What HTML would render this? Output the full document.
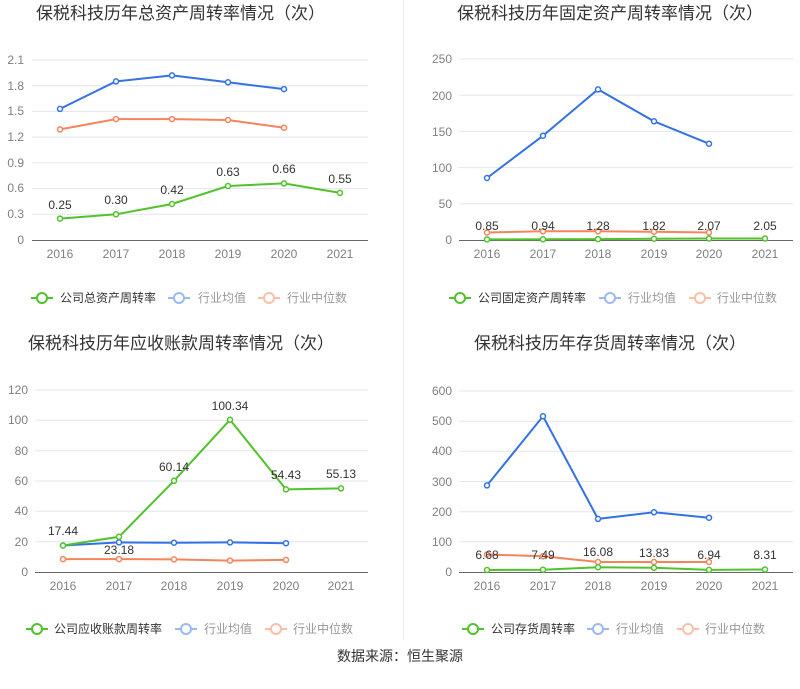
<!DOCTYPE html>
<html><head><meta charset="utf-8"><style>
body{margin:0;background:#fff;}
svg{display:block;font-family:"Liberation Sans","Noto Sans CJK SC",sans-serif;}
.t{font-size:17px;fill:#333;}
.ax{font-size:12px;fill:#808080;}
.lb{font-size:12px;fill:#333;text-anchor:middle;}
.lg{font-size:12px;}
.g{stroke:#e3e6ee;stroke-width:1;}
.gr{fill:none;stroke:#52c22b;stroke-width:2;}
.bl{fill:none;stroke:#3472e4;stroke-width:2;}
.or{fill:none;stroke:#f5845a;stroke-width:2;}
.pg{fill:#fff;stroke:#52c22b;stroke-width:1.5;}
.pb{fill:#fff;stroke:#3472e4;stroke-width:1.5;}
.po{fill:#fff;stroke:#f5845a;stroke-width:1.5;}
</style></head><body>
<svg width="800" height="689" viewBox="0 0 800 689">
<line x1="403.5" y1="0" x2="403.5" y2="640" stroke="#eee"/>

<!-- Chart 1 -->
<text class="t" x="36" y="19">保税科技历年总资产周转率情况（次）</text>
<g class="g"><line x1="32" x2="368" y1="60" y2="60"/><line x1="32" x2="368" y1="85.7" y2="85.7"/><line x1="32" x2="368" y1="111.4" y2="111.4"/><line x1="32" x2="368" y1="137.1" y2="137.1"/><line x1="32" x2="368" y1="162.9" y2="162.9"/><line x1="32" x2="368" y1="188.6" y2="188.6"/><line x1="32" x2="368" y1="214.3" y2="214.3"/></g>
<line x1="32" x2="368" y1="240.5" y2="240.5" stroke="#666"/>
<g class="ax" text-anchor="end"><text x="24" y="64">2.1</text><text x="24" y="90">1.8</text><text x="24" y="115">1.5</text><text x="24" y="141">1.2</text><text x="24" y="167">0.9</text><text x="24" y="192">0.6</text><text x="24" y="218">0.3</text><text x="24" y="244">0</text></g>
<g class="ax" text-anchor="middle"><text x="60" y="258">2016</text><text x="116" y="258">2017</text><text x="172" y="258">2018</text><text x="228" y="258">2019</text><text x="284" y="258">2020</text><text x="340" y="258">2021</text></g>
<polyline class="bl" points="60,108.9 116,81.4 172,75.4 228,82.3 284,89.1"/>
<polyline class="or" points="60,129.4 116,119.1 172,119.1 228,120 284,127.7"/>
<polyline class="gr" points="60,218.6 116,214.3 172,204 228,186 284,183.4 340,192.9"/>
<g class="pb"><circle cx="60" cy="108.9" r="2.5"/><circle cx="116" cy="81.4" r="2.5"/><circle cx="172" cy="75.4" r="2.5"/><circle cx="228" cy="82.3" r="2.5"/><circle cx="284" cy="89.1" r="2.5"/></g>
<g class="po"><circle cx="60" cy="129.4" r="2.5"/><circle cx="116" cy="119.1" r="2.5"/><circle cx="172" cy="119.1" r="2.5"/><circle cx="228" cy="120" r="2.5"/><circle cx="284" cy="127.7" r="2.5"/></g>
<g class="pg"><circle cx="60" cy="218.6" r="2.5"/><circle cx="116" cy="214.3" r="2.5"/><circle cx="172" cy="204" r="2.5"/><circle cx="228" cy="186" r="2.5"/><circle cx="284" cy="183.4" r="2.5"/><circle cx="340" cy="192.9" r="2.5"/></g>
<g class="lb"><text x="60" y="209">0.25</text><text x="116" y="204">0.30</text><text x="172" y="194">0.42</text><text x="228" y="176">0.63</text><text x="284" y="173">0.66</text><text x="340" y="183">0.55</text></g>
<g class="lg">
<line x1="31" x2="53" y1="298" y2="298" stroke="#52c22b" stroke-width="2"/><circle cx="42" cy="298" r="5" fill="#fff" stroke="#52c22b" stroke-width="2"/><text x="60" y="302" fill="#333">公司总资产周转率</text>
<line x1="168" x2="190" y1="298" y2="298" stroke="#9bb9f0" stroke-width="2"/><circle cx="179" cy="298" r="5" fill="#fff" stroke="#9bb9f0" stroke-width="2"/><text x="198" y="302" fill="#999">行业均值</text>
<line x1="258" x2="280" y1="298" y2="298" stroke="#f9c0a9" stroke-width="2"/><circle cx="269" cy="298" r="5" fill="#fff" stroke="#f9c0a9" stroke-width="2"/><text x="287" y="302" fill="#999">行业中位数</text>
</g>

<!-- Chart 2 -->
<text class="t" x="610" y="19" text-anchor="middle">保税科技历年固定资产周转率情况（次）</text>
<g class="g"><line x1="459" x2="793" y1="59" y2="59"/><line x1="459" x2="793" y1="95.2" y2="95.2"/><line x1="459" x2="793" y1="131.4" y2="131.4"/><line x1="459" x2="793" y1="167.6" y2="167.6"/><line x1="459" x2="793" y1="203.8" y2="203.8"/></g>
<line x1="459" x2="793" y1="240.5" y2="240.5" stroke="#666"/>
<g class="ax" text-anchor="end"><text x="452" y="63">250</text><text x="452" y="100">200</text><text x="452" y="136">150</text><text x="452" y="172">100</text><text x="452" y="208">50</text><text x="452" y="244">0</text></g>
<g class="ax" text-anchor="middle"><text x="487" y="258">2016</text><text x="543" y="258">2017</text><text x="598" y="258">2018</text><text x="654" y="258">2019</text><text x="709" y="258">2020</text><text x="765" y="258">2021</text></g>
<polyline class="bl" points="487,178 543,135.7 598,89.4 654,121.3 709,143.7"/>
<polyline class="or" points="487,232.5 543,231.3 598,231.3 654,231.7 709,232.5"/>
<polyline class="gr" points="487,239.4 543,239.3 598,239.1 654,238.7 709,238.5 765,238.5"/>
<g class="pb"><circle cx="487" cy="178" r="2.5"/><circle cx="543" cy="135.7" r="2.5"/><circle cx="598" cy="89.4" r="2.5"/><circle cx="654" cy="121.3" r="2.5"/><circle cx="709" cy="143.7" r="2.5"/></g>
<g class="po"><circle cx="487" cy="232.5" r="2.5"/><circle cx="543" cy="231.3" r="2.5"/><circle cx="598" cy="231.3" r="2.5"/><circle cx="654" cy="231.7" r="2.5"/><circle cx="709" cy="232.5" r="2.5"/></g>
<g class="pg"><circle cx="487" cy="239.4" r="2.5"/><circle cx="543" cy="239.3" r="2.5"/><circle cx="598" cy="239.1" r="2.5"/><circle cx="654" cy="238.7" r="2.5"/><circle cx="709" cy="238.5" r="2.5"/><circle cx="765" cy="238.5" r="2.5"/></g>
<g class="lb"><text x="487" y="230">0.85</text><text x="543" y="230">0.94</text><text x="598" y="230">1.28</text><text x="654" y="230">1.82</text><text x="709" y="230">2.07</text><text x="765" y="230">2.05</text></g>
<g class="lg">
<line x1="449" x2="471" y1="298" y2="298" stroke="#52c22b" stroke-width="2"/><circle cx="460" cy="298" r="5" fill="#fff" stroke="#52c22b" stroke-width="2"/><text x="478" y="302" fill="#333">公司固定资产周转率</text>
<line x1="599" x2="621" y1="298" y2="298" stroke="#9bb9f0" stroke-width="2"/><circle cx="610" cy="298" r="5" fill="#fff" stroke="#9bb9f0" stroke-width="2"/><text x="628" y="302" fill="#999">行业均值</text>
<line x1="689" x2="711" y1="298" y2="298" stroke="#f9c0a9" stroke-width="2"/><circle cx="700" cy="298" r="5" fill="#fff" stroke="#f9c0a9" stroke-width="2"/><text x="717" y="302" fill="#999">行业中位数</text>
</g>

<!-- Chart 3 -->
<text class="t" x="28" y="349">保税科技历年应收账款周转率情况（次）</text>
<g class="g"><line x1="35" x2="368" y1="390" y2="390"/><line x1="35" x2="368" y1="420.3" y2="420.3"/><line x1="35" x2="368" y1="450.7" y2="450.7"/><line x1="35" x2="368" y1="481" y2="481"/><line x1="35" x2="368" y1="511.3" y2="511.3"/><line x1="35" x2="368" y1="541.7" y2="541.7"/></g>
<line x1="35" x2="368" y1="572.5" y2="572.5" stroke="#666"/>
<g class="ax" text-anchor="end"><text x="28" y="394">120</text><text x="28" y="424">100</text><text x="28" y="455">80</text><text x="28" y="485">60</text><text x="28" y="515">40</text><text x="28" y="546">20</text><text x="28" y="576">0</text></g>
<g class="ax" text-anchor="middle"><text x="63" y="590">2016</text><text x="119" y="590">2017</text><text x="174" y="590">2018</text><text x="230" y="590">2019</text><text x="286" y="590">2020</text><text x="341" y="590">2021</text></g>
<polyline class="bl" points="63,545.5 119,542.4 174,542.7 230,542.4 286,543.2"/>
<polyline class="or" points="63,559.1 119,559.1 174,559.4 230,560.6 286,559.9"/>
<polyline class="gr" points="63,545.5 119,536.8 174,480.8 230,419.8 286,489.4 341,488.4"/>
<g class="pb"><circle cx="63" cy="545.5" r="2.5"/><circle cx="119" cy="542.4" r="2.5"/><circle cx="174" cy="542.7" r="2.5"/><circle cx="230" cy="542.4" r="2.5"/><circle cx="286" cy="543.2" r="2.5"/></g>
<g class="po"><circle cx="63" cy="559.1" r="2.5"/><circle cx="119" cy="559.1" r="2.5"/><circle cx="174" cy="559.4" r="2.5"/><circle cx="230" cy="560.6" r="2.5"/><circle cx="286" cy="559.9" r="2.5"/></g>
<g class="pg"><circle cx="63" cy="545.5" r="2.5"/><circle cx="119" cy="536.8" r="2.5"/><circle cx="174" cy="480.8" r="2.5"/><circle cx="230" cy="419.8" r="2.5"/><circle cx="286" cy="489.4" r="2.5"/><circle cx="341" cy="488.4" r="2.5"/></g>
<g class="lb"><text x="63" y="535">17.44</text><text x="119" y="554">23.18</text><text x="174" y="471">60.14</text><text x="230" y="410">100.34</text><text x="286" y="479">54.43</text><text x="341" y="478">55.13</text></g>
<g class="lg">
<line x1="26" x2="48" y1="629" y2="629" stroke="#52c22b" stroke-width="2"/><circle cx="37" cy="629" r="5" fill="#fff" stroke="#52c22b" stroke-width="2"/><text x="54" y="633" fill="#333">公司应收账款周转率</text>
<line x1="175" x2="197" y1="629" y2="629" stroke="#9bb9f0" stroke-width="2"/><circle cx="186" cy="629" r="5" fill="#fff" stroke="#9bb9f0" stroke-width="2"/><text x="204" y="633" fill="#999">行业均值</text>
<line x1="265" x2="287" y1="629" y2="629" stroke="#f9c0a9" stroke-width="2"/><circle cx="276" cy="629" r="5" fill="#fff" stroke="#f9c0a9" stroke-width="2"/><text x="293" y="633" fill="#999">行业中位数</text>
</g>

<!-- Chart 4 -->
<text class="t" x="610" y="349" text-anchor="middle">保税科技历年存货周转率情况（次）</text>
<g class="g"><line x1="459" x2="793" y1="391" y2="391"/><line x1="459" x2="793" y1="421.2" y2="421.2"/><line x1="459" x2="793" y1="451.3" y2="451.3"/><line x1="459" x2="793" y1="481.5" y2="481.5"/><line x1="459" x2="793" y1="511.7" y2="511.7"/><line x1="459" x2="793" y1="541.8" y2="541.8"/></g>
<line x1="459" x2="793" y1="572.5" y2="572.5" stroke="#666"/>
<g class="ax" text-anchor="end"><text x="452" y="395">600</text><text x="452" y="425">500</text><text x="452" y="455">400</text><text x="452" y="486">300</text><text x="452" y="516">200</text><text x="452" y="546">100</text><text x="452" y="576">0</text></g>
<g class="ax" text-anchor="middle"><text x="487" y="590">2016</text><text x="543" y="590">2017</text><text x="598" y="590">2018</text><text x="654" y="590">2019</text><text x="709" y="590">2020</text><text x="765" y="590">2021</text></g>
<polyline class="bl" points="487,485.4 543,416.3 598,518.9 654,512.3 709,517.7"/>
<polyline class="or" points="487,554.5 543,556.3 598,562 654,562 709,562"/>
<polyline class="gr" points="487,570 543,569.7 598,567.2 654,567.8 709,569.9 765,569.5"/>
<g class="pb"><circle cx="487" cy="485.4" r="2.5"/><circle cx="543" cy="416.3" r="2.5"/><circle cx="598" cy="518.9" r="2.5"/><circle cx="654" cy="512.3" r="2.5"/><circle cx="709" cy="517.7" r="2.5"/></g>
<g class="po"><circle cx="487" cy="554.5" r="2.5"/><circle cx="543" cy="556.3" r="2.5"/><circle cx="598" cy="562" r="2.5"/><circle cx="654" cy="562" r="2.5"/><circle cx="709" cy="562" r="2.5"/></g>
<g class="pg"><circle cx="487" cy="570" r="2.5"/><circle cx="543" cy="569.7" r="2.5"/><circle cx="598" cy="567.2" r="2.5"/><circle cx="654" cy="567.8" r="2.5"/><circle cx="709" cy="569.9" r="2.5"/><circle cx="765" cy="569.5" r="2.5"/></g>
<g class="lb"><text x="487" y="559">6.68</text><text x="543" y="559">7.49</text><text x="598" y="556">16.08</text><text x="654" y="557">13.83</text><text x="709" y="559">6.94</text><text x="765" y="559">8.31</text></g>
<g class="lg">
<line x1="462" x2="484" y1="629" y2="629" stroke="#52c22b" stroke-width="2"/><circle cx="473" cy="629" r="5" fill="#fff" stroke="#52c22b" stroke-width="2"/><text x="491" y="633" fill="#333">公司存货周转率</text>
<line x1="587" x2="609" y1="629" y2="629" stroke="#9bb9f0" stroke-width="2"/><circle cx="598" cy="629" r="5" fill="#fff" stroke="#9bb9f0" stroke-width="2"/><text x="616" y="633" fill="#999">行业均值</text>
<line x1="677" x2="699" y1="629" y2="629" stroke="#f9c0a9" stroke-width="2"/><circle cx="688" cy="629" r="5" fill="#fff" stroke="#f9c0a9" stroke-width="2"/><text x="705" y="633" fill="#999">行业中位数</text>
</g>

<text x="400" y="661" text-anchor="middle" font-size="14" fill="#333">数据来源：恒生聚源</text>
</svg>
</body></html>
